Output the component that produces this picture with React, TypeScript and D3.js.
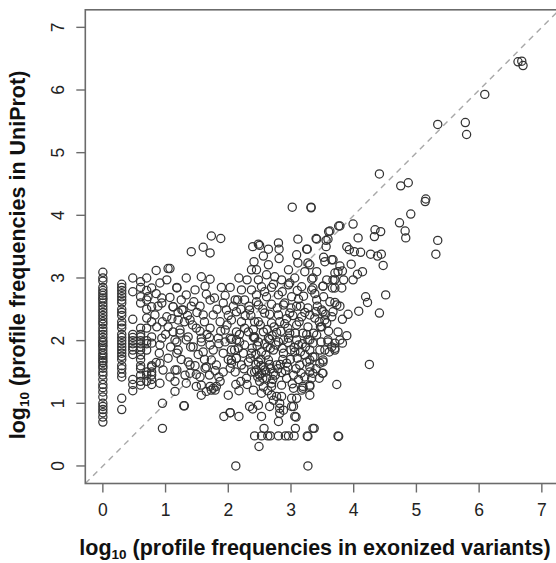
import React from 'react';
import * as d3 from "d3";

// x positions of the vertical stripes at low counts (log10 of 1..6)
const columnX = [0, 0.301, 0.477, 0.602, 0.699, 0.778];
const columnY = [
    [3.09, 3.0, 2.95, 2.85, 2.8, 2.76, 2.72, 2.68, 2.65, 2.6, 2.55, 2.5, 2.45, 2.4, 2.35, 2.3, 2.26, 2.2, 2.15, 2.1, 2.05, 2.0, 1.97, 1.93, 1.9, 1.85, 1.8, 1.76, 1.72, 1.68, 1.65, 1.6, 1.56, 1.5, 1.45, 1.38, 1.3, 1.25, 1.18, 1.1, 1.0, 0.95, 0.9, 0.85, 0.78, 0.7],
    [2.9, 2.85, 2.8, 2.75, 2.7, 2.65, 2.6, 2.5, 2.45, 2.4, 2.3, 2.25, 2.2, 2.1, 2.05, 2.0, 1.95, 1.9, 1.85, 1.8, 1.75, 1.7, 1.6, 1.55, 1.48, 1.42, 1.08, 0.9],
    [3.0, 2.78, 2.34, 2.1, 2.05, 2.0, 1.95, 1.9, 1.85, 1.78, 1.38, 1.3, 1.2],
    [2.94, 2.85, 2.7, 2.6, 2.2, 2.1, 2.06, 2.0, 1.95, 1.9, 1.85, 1.77, 1.7, 1.6, 1.55, 1.45, 1.35, 1.29],
    [3.0, 2.8, 2.65, 2.5, 2.36, 2.2, 2.0, 1.95, 1.85, 1.5, 1.45, 1.35],
    [2.84, 2.54, 2.3, 2.06, 1.96, 1.6, 1.58, 1.5, 1.45, 1.38, 1.3]
];

const points = [
    [0.85, 3.12], [1.04, 3.15], [0.91, 2.92], [1.02, 2.97], [1.18, 2.85], [0.72, 2.70], [0.94, 2.68], [1.07, 2.69],
    [0.94, 2.60], [1.12, 2.54], [1.26, 2.49], [0.83, 2.41], [1.02, 2.38], [0.86, 2.22], [1.04, 2.22], [1.23, 2.17],
    [0.94, 2.04], [1.15, 2.01], [0.91, 1.93], [1.04, 1.72], [0.91, 1.64], [0.96, 1.53], [1.07, 1.42], [0.91, 1.32],
    [1.18, 1.53], [1.20, 1.85], [0.95, 1.0], [0.95, 0.6], [1.30, 0.96],
    [1.73, 3.67], [1.88, 3.63], [1.41, 3.42], [1.60, 3.49], [1.71, 3.40], [2.39, 3.50], [2.48, 3.54], [2.50, 3.52],
    [2.41, 3.26], [2.37, 3.13], [1.33, 3.0], [1.57, 3.02], [1.71, 2.98], [2.17, 3.0], [2.30, 2.97], [1.89, 2.85],
    [2.03, 2.85], [1.63, 2.87], [1.47, 2.81], [1.33, 2.73], [1.18, 2.84], [1.07, 3.15], [1.65, 2.74], [2.21, 2.81],
    [2.37, 2.81], [2.11, 2.65], [2.26, 2.65], [1.92, 2.60], [1.71, 2.65], [1.55, 2.55], [1.41, 2.55], [1.12, 2.54],
    [1.28, 2.49], [1.97, 2.49], [2.13, 2.46], [2.34, 2.49], [1.60, 2.41], [1.76, 2.41], [1.39, 2.33], [1.20, 2.33],
    [1.87, 2.30], [2.05, 2.33], [2.21, 2.30], [2.42, 2.30], [1.49, 2.20], [1.71, 2.20], [1.95, 2.17], [2.13, 2.14],
    [2.32, 2.14], [1.23, 2.12], [1.12, 2.14], [1.36, 2.06], [1.57, 2.04], [1.84, 2.04], [2.05, 2.02], [2.42, 2.06],
    [3.02, 4.13], [3.32, 4.13], [3.11, 3.62], [2.80, 3.56], [2.81, 3.46], [2.64, 3.46], [3.25, 3.46], [3.41, 3.62],
    [3.56, 3.60], [3.60, 3.74], [3.78, 3.83], [2.56, 3.35], [2.81, 3.31], [3.09, 3.37], [3.11, 3.24], [3.27, 3.24],
    [3.54, 3.26], [3.67, 3.29], [2.64, 3.21], [2.45, 3.13], [2.96, 3.13], [3.22, 3.10], [3.41, 3.10], [3.75, 3.10],
    [2.48, 2.97], [2.61, 3.05], [2.74, 3.02], [2.85, 2.97], [3.06, 3.0], [3.33, 2.98], [3.57, 2.97], [3.70, 2.97],
    [2.53, 2.86], [2.69, 2.85], [2.96, 2.89], [3.17, 2.86], [3.35, 2.84], [3.51, 2.87], [3.70, 2.84], [2.45, 2.73],
    [2.61, 2.70], [2.80, 2.73], [3.01, 2.70], [3.20, 2.71], [3.41, 2.65], [3.62, 2.62], [2.48, 2.57], [2.69, 2.58],
    [2.88, 2.57], [3.09, 2.55], [3.27, 2.52], [3.49, 2.49], [3.73, 2.57], [2.58, 2.44], [2.80, 2.41], [2.98, 2.44],
    [3.17, 2.38], [3.38, 2.36], [3.65, 2.38], [2.48, 2.30], [2.69, 2.28], [2.90, 2.27], [3.09, 2.25], [3.27, 2.22],
    [3.49, 2.22], [2.56, 2.14], [2.77, 2.13], [2.98, 2.12], [3.19, 2.12], [3.41, 2.09], [2.42, 2.04], [2.66, 2.02],
    [2.88, 2.01], [3.09, 2.01], [3.30, 2.01], [3.78, 2.01],
    [1.18, 1.98], [1.18, 1.80], [1.33, 2.01], [1.44, 1.90], [1.57, 1.98], [1.60, 1.82], [1.71, 1.93], [1.76, 1.85],
    [1.95, 1.98], [2.05, 1.85], [1.36, 1.66], [1.39, 1.61], [1.15, 1.53], [1.31, 1.45], [1.49, 1.46], [1.65, 1.58],
    [1.73, 1.69], [1.81, 1.61], [1.79, 1.52], [1.15, 1.35], [1.15, 1.19], [1.33, 1.32], [1.57, 1.29], [1.57, 1.13],
    [1.71, 1.27], [1.79, 1.21], [1.87, 1.35], [1.73, 1.21], [2.0, 1.13], [2.17, 1.20], [2.11, 1.50], [2.03, 1.56],
    [2.13, 1.72], [2.21, 1.61], [2.05, 1.69], [2.16, 1.88], [2.26, 1.93], [2.37, 1.80], [2.37, 1.50], [2.29, 1.40],
    [2.40, 1.21], [2.34, 0.95], [2.03, 2.04], [1.39, 1.48], [1.55, 1.42], [1.49, 1.27], [1.63, 1.56], [1.76, 1.24],
    [1.81, 1.27], [1.65, 1.19], [1.29, 0.96], [1.93, 0.79], [2.03, 0.85], [2.17, 0.79], [2.39, 0.91], [2.12, 0.0],
    [2.48, 1.98], [2.64, 2.04], [2.80, 1.98], [2.96, 2.04], [3.12, 1.93], [3.27, 2.01], [3.46, 1.85], [3.59, 1.98],
    [3.70, 1.88], [2.53, 1.82], [2.72, 1.85], [2.88, 1.80], [3.06, 1.82], [3.22, 1.77], [3.38, 1.74], [3.51, 1.69],
    [2.48, 1.66], [2.64, 1.69], [2.77, 1.61], [2.93, 1.64], [3.14, 1.61], [3.30, 1.58], [2.42, 1.50], [2.58, 1.53],
    [2.72, 1.48], [2.85, 1.49], [3.04, 1.45], [3.22, 1.42], [3.33, 1.40], [2.50, 1.35], [2.69, 1.32], [2.85, 1.29],
    [3.04, 1.24], [3.19, 1.27], [2.53, 1.16], [2.69, 1.13], [2.85, 1.11], [3.01, 1.08], [2.48, 0.97], [2.66, 0.95],
    [2.82, 0.92], [3.01, 0.95], [2.53, 0.79], [2.80, 0.71], [3.06, 0.79], [3.30, 1.13],
    [2.42, 0.48], [2.53, 0.48], [2.63, 0.48], [2.67, 0.48], [2.80, 0.48], [2.91, 0.48], [2.96, 0.48], [3.05, 0.48],
    [3.26, 0.48], [3.75, 0.48], [2.49, 0.31], [3.27, 0.0], [3.37, 0.6], [3.07, 0.6], [2.57, 0.6], [3.73, 1.30],
    [3.51, 1.48], [4.25, 1.62], [3.08, 0.78], [2.03, 0.85],
    [2.05, 1.64], [2.13, 1.72], [2.24, 1.80], [2.32, 1.66], [2.45, 1.53], [2.53, 1.48], [2.56, 1.58], [2.61, 1.40],
    [2.69, 1.27], [2.77, 1.11], [2.82, 1.0], [2.88, 0.89], [2.82, 0.84], [3.04, 0.95], [3.09, 1.08], [3.17, 1.21],
    [3.30, 1.29], [3.35, 1.48], [3.30, 1.69], [3.46, 1.64], [3.54, 1.85], [3.35, 1.96], [2.13, 2.01], [2.40, 2.06],
    [3.32, 4.12], [4.75, 4.47], [4.87, 4.52], [5.14, 4.22], [4.91, 4.02], [4.73, 3.88], [4.82, 3.75], [4.83, 3.64],
    [5.34, 3.60], [5.31, 3.38], [4.34, 3.77], [4.43, 3.74], [4.33, 3.66], [3.99, 3.86], [4.07, 3.64], [3.76, 3.83],
    [3.62, 3.75], [3.59, 3.62], [3.40, 3.63], [3.56, 3.50], [3.89, 3.50], [3.93, 3.45], [4.01, 3.42], [4.11, 3.41],
    [4.27, 3.38], [4.38, 3.35], [4.44, 3.38], [4.47, 3.20], [3.26, 3.46], [3.52, 3.33], [3.65, 3.29], [3.30, 3.21],
    [3.78, 3.19], [3.96, 3.22], [3.82, 3.11], [3.70, 3.08], [4.14, 3.10], [4.06, 3.06], [3.99, 2.97], [3.84, 2.97],
    [3.67, 2.97], [3.35, 3.0], [3.51, 2.87], [3.66, 2.84], [3.81, 2.84], [3.33, 2.81], [4.19, 2.70], [4.22, 2.61],
    [4.51, 2.73], [4.41, 2.44], [4.08, 2.47], [3.91, 2.42], [3.82, 2.34], [3.78, 2.55], [3.70, 2.61], [3.67, 2.46],
    [3.51, 2.46], [3.40, 2.46], [3.30, 2.41], [3.54, 2.33], [3.57, 2.28], [3.47, 2.22], [3.89, 2.08], [3.75, 2.14],
    [3.82, 1.96], [3.70, 1.96], [3.65, 1.90], [3.70, 1.85], [3.61, 1.82], [3.59, 2.01], [3.51, 1.66], [3.50, 1.48],
    [3.35, 1.74], [3.30, 1.50], [3.30, 1.27], [3.19, 1.24], [3.35, 0.6], [3.27, 0.47], [3.76, 0.47],
    [4.41, 4.66], [5.15, 4.26], [5.34, 5.45], [5.78, 5.48], [5.80, 5.29], [6.09, 5.93], [6.62, 6.45], [6.68, 6.46],
    [6.70, 6.39],
    [2.35, 1.72], [2.44, 1.62], [2.52, 1.70], [2.60, 1.77], [2.68, 1.55], [2.75, 1.45], [2.83, 1.62], [2.91, 1.52],
    [2.99, 1.70], [3.08, 1.55], [3.16, 1.48], [3.25, 1.66], [2.47, 1.42], [2.56, 1.26], [2.63, 1.20], [2.72, 1.05],
    [2.93, 1.40], [3.02, 1.31], [3.12, 1.38], [2.38, 1.88], [2.46, 1.92], [2.58, 1.95], [2.67, 1.88], [2.76, 1.93],
    [2.86, 1.88], [2.95, 1.97], [3.05, 1.89], [3.15, 1.82], [3.23, 1.90], [2.40, 2.18], [2.51, 2.25], [2.62, 2.18],
    [2.73, 2.22], [2.84, 2.15], [2.93, 2.35], [3.03, 2.40], [3.13, 2.30], [3.22, 2.45], [2.55, 2.50], [2.66, 2.42],
    [2.78, 2.52], [2.90, 2.60], [3.00, 2.52], [3.12, 2.66], [2.45, 2.62], [2.58, 2.78], [2.72, 2.90], [2.86, 2.78],
    [2.98, 2.92], [3.10, 2.80], [2.33, 2.55], [2.27, 2.40], [2.20, 2.50], [2.15, 2.65], [2.08, 2.55], [2.00, 2.40],
    [1.95, 2.72], [1.82, 2.50], [1.78, 2.68], [1.62, 2.30], [1.50, 2.45], [1.45, 2.62], [1.30, 2.30], [1.25, 2.65],
    [1.10, 2.35], [1.40, 1.90], [1.52, 1.78], [1.66, 2.10], [1.85, 1.95], [1.92, 1.80], [2.00, 1.70], [2.10, 1.85],
    [2.18, 1.98], [2.25, 1.55], [2.30, 1.30], [2.20, 1.35], [2.12, 1.30], [1.92, 1.50], [1.85, 1.42], [1.70, 1.45],
    [1.62, 1.70], [1.47, 1.60], [1.25, 1.70], [1.08, 1.90], [1.00, 2.10], [0.95, 2.30], [0.88, 2.55], [0.85, 2.75],
    [0.90, 1.80], [0.85, 1.65], [3.36, 2.12], [3.45, 2.30], [3.55, 2.42], [3.42, 2.55], [3.52, 2.70], [3.38, 2.75],
    [3.60, 2.15], [3.48, 1.98], [3.30, 1.85], [3.40, 1.55], [3.45, 1.40],
    [2.50, 1.45], [2.55, 1.40], [2.60, 1.50], [2.66, 1.62], [2.71, 1.38], [2.79, 1.55], [2.87, 1.70], [2.95, 1.58],
    [3.00, 1.85], [3.10, 1.72], [3.18, 1.95], [3.25, 2.10], [2.44, 1.78], [2.52, 1.60], [2.62, 1.90], [2.70, 2.08],
    [2.82, 2.30], [2.95, 2.20], [3.07, 2.12], [3.15, 2.55], [2.36, 2.40], [2.26, 2.20], [2.18, 2.10], [1.98, 2.25],
    [1.88, 2.15], [1.70, 2.05], [1.55, 2.15], [1.43, 2.25], [1.35, 2.40], [1.20, 2.45]
];

const ticks = [0, 1, 2, 3, 4, 5, 6, 7];

const W = 556, H = 563;
const font = "'Liberation Sans', Arial, sans-serif";

const App = () => {
    const x = d3.scaleLinear().domain([-0.28, 7.28]).range([85.3, 559.4]);
    const y = d3.scaleLinear().domain([-0.28, 7.28]).range([483.5, 9.8]);

    const all = [];
    columnX.forEach((cx, i) => columnY[i].forEach((cy) => all.push([cx, cy])));
    points.forEach((p) => all.push(p));

    const [x0, x1] = x.range();
    const [y0, y1] = y.range();
    const axisColor = "#6b6b6b";

    return (
        <div style={{ position: 'absolute', left: 0, top: 0 }}>
            <svg width={W} height={H} style={{ display: 'block', background: '#fff' }}>
                <line x1={x(-0.28)} y1={y(-0.28)} x2={x(7.28)} y2={y(7.28)}
                    stroke="#a8a8a8" strokeWidth={1.4} strokeDasharray="6,5" />
                {all.map((d, i) => (
                    <circle key={i} cx={x(d[0])} cy={y(d[1])} r={4.1}
                        fill="none" stroke="#333" strokeWidth={1.25} />
                ))}
                <rect x={x0} y={y1} width={x1 - x0} height={y0 - y1}
                    fill="none" stroke={axisColor} strokeWidth={1.6} />
                {ticks.map((t) => (
                    <g key={'x' + t}>
                        <line x1={x(t)} x2={x(t)} y1={y0} y2={y0 + 9} stroke={axisColor} strokeWidth={1.4} />
                        <text x={x(t)} y={516} textAnchor="middle" fontSize={17.5} fontFamily={font} fill="#222">{t}</text>
                    </g>
                ))}
                {ticks.map((t) => (
                    <g key={'y' + t}>
                        <line x1={x0} x2={x0 - 9} y1={y(t)} y2={y(t)} stroke={axisColor} strokeWidth={1.4} />
                        <text transform={`translate(63.5,${y(t)}) rotate(-90)`} textAnchor="middle"
                            fontSize={17.5} fontFamily={font} fill="#222">{t}</text>
                    </g>
                ))}
                <text x={315} y={555} textAnchor="middle" fontSize={21.5} fontWeight="bold" fontFamily={font} fill="#111">
                    <tspan>log</tspan><tspan fontSize={13.5} dy={4}>10</tspan><tspan dy={-4}> (profile frequencies in exonized variants)</tspan>
                </text>
                <text transform="translate(25,255) rotate(-90)" textAnchor="middle" fontSize={21.5} fontWeight="bold" fontFamily={font} fill="#111">
                    <tspan>log</tspan><tspan fontSize={13.5} dy={4}>10</tspan><tspan dy={-4}> (profile frequencies in UniProt)</tspan>
                </text>
            </svg>
        </div>
    );
};

export default App;
